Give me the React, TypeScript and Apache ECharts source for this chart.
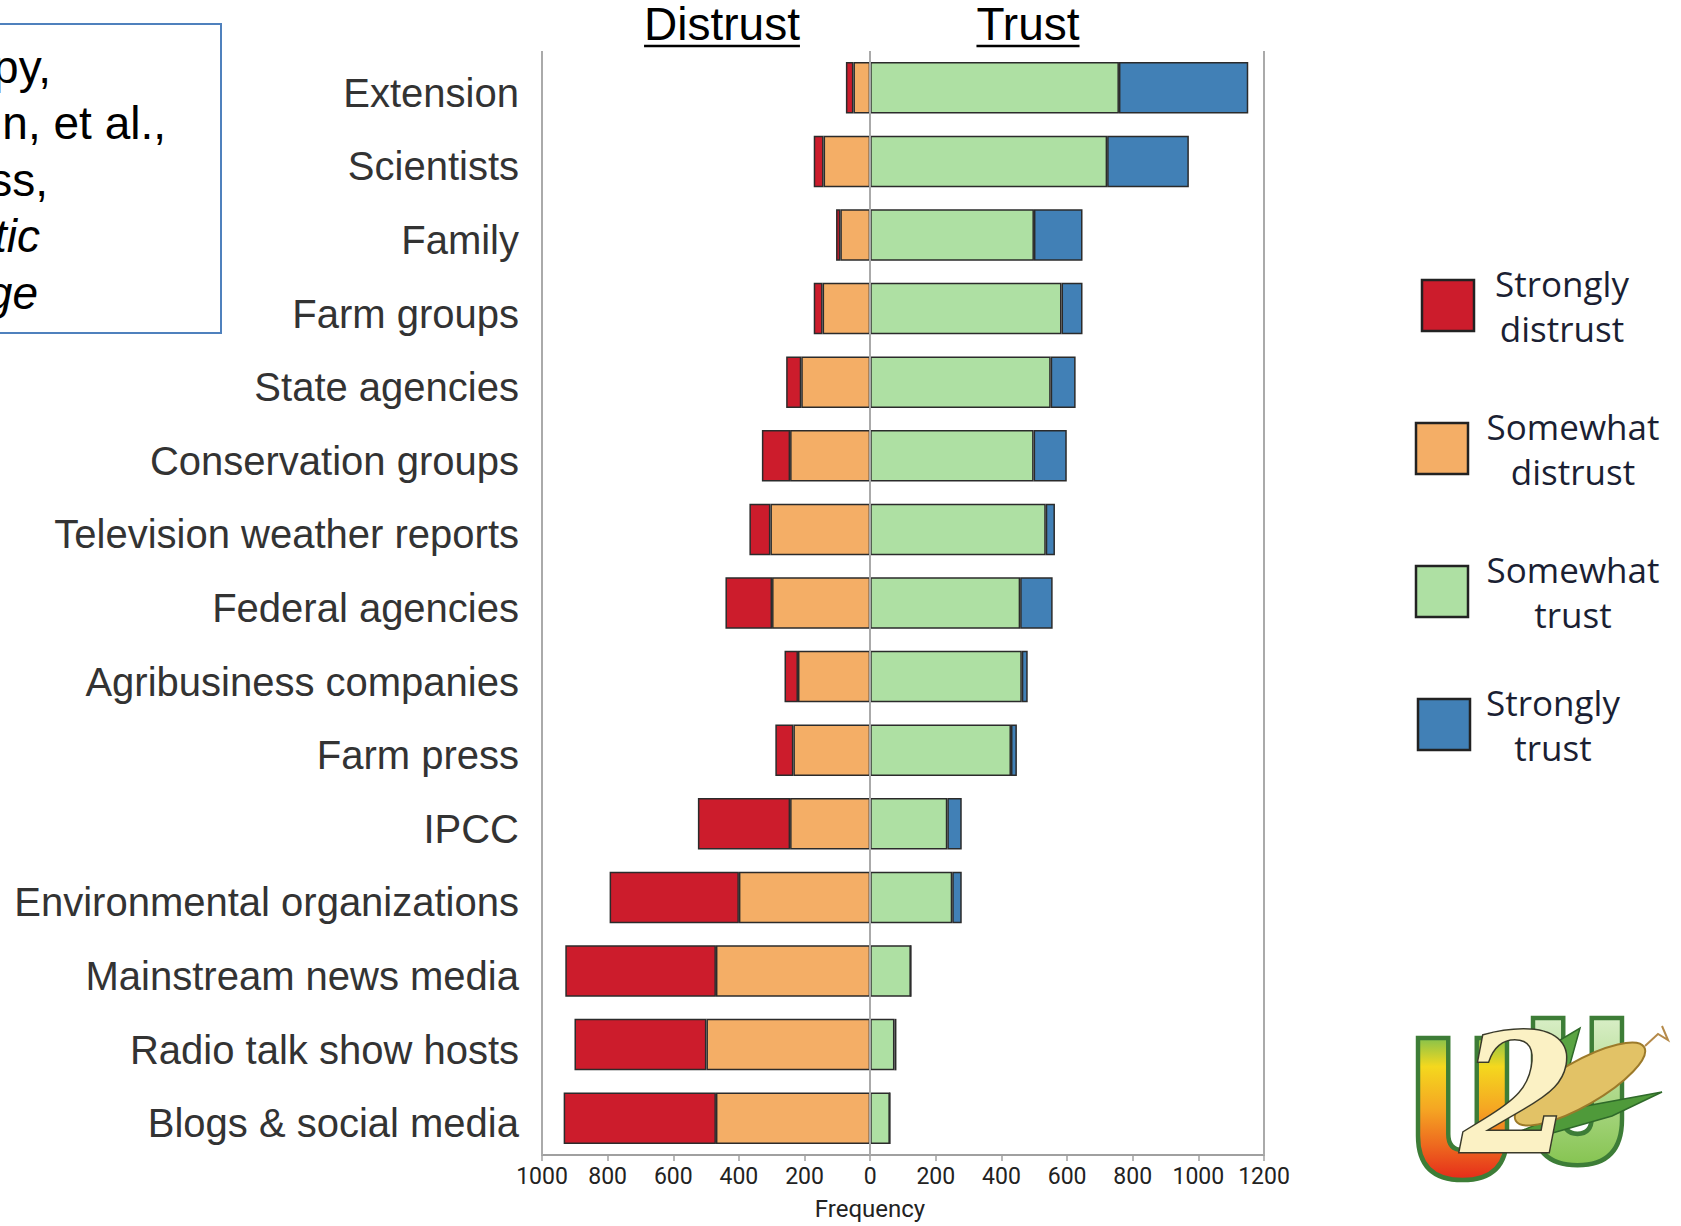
import React, { useEffect, useRef } from "react";
import * as echarts from "echarts";

const categories = [
  "Extension",
  "Scientists",
  "Family",
  "Farm groups",
  "State agencies",
  "Conservation groups",
  "Television weather reports",
  "Federal agencies",
  "Agribusiness companies",
  "Farm press",
  "IPCC",
  "Environmental organizations",
  "Mainstream news media",
  "Radio talk show hosts",
  "Blogs & social media",
];
const stronglyDistrust = [23, 30, 13, 27, 46, 86, 64, 142, 41, 55, 281, 394, 459, 402, 464];
const somewhatDistrust = [51, 142, 91, 145, 210, 244, 304, 299, 220, 234, 244, 400, 470, 499, 470];
const somewhatTrust = [758, 722, 499, 583, 550, 498, 535, 457, 462, 429, 235, 250, 124, 74, 60];
const stronglyTrust = [394, 249, 148, 64, 76, 101, 28, 99, 18, 18, 44, 29, 0, 6, 0];

const axisMin = -1000;
const axisMax = 1200;
const axisStep = 200;
const frameLines = [-1000, 0, 1200];

const seriesNames = ["Strongly distrust", "Somewhat distrust", "Somewhat trust", "Strongly trust"];
const legendLabels = ["Strongly\ndistrust", "Somewhat\ndistrust", "Somewhat\ntrust", "Strongly\ntrust"];
const citationLines = ["py,", "n, et al.,", "ss,", "tic", "ge"];
const titleLeft = "Distrust";
const titleRight = "Trust";
const axisName = "Frequency";

const RED = "#CC1C2C";
const ORANGE = "#F4AE66";
const GREEN = "#AEE0A3";
const BLUE = "#4180B6";
const COLORS = [RED, ORANGE, GREEN, BLUE];

const uPath =
  "M0 0 H34 V108 Q34 126 50 126 Q66 126 66 108 V0 H100 V110 Q100 160 50 160 Q0 160 0 110 Z";

function textWidth(txt: string, font: string) {
  const c = document.createElement("canvas").getContext("2d");
  if (!c) return txt.length * 20;
  c.font = font;
  return c.measureText(txt).width;
}

export default function App() {
  const ref = useRef<HTMLDivElement>(null);

  useEffect(() => {
    if (!ref.current) return;
    try {
      echarts.graphic.registerShape("uLetter", echarts.graphic.extendPath(uPath, {}) as any);
    } catch (e) {
      // already registered
    }
    const chart = echarts.init(ref.current, undefined, { renderer: "svg" });

    const titleFont = 46;
    const wL = textWidth(titleLeft, `${titleFont}px "Liberation Sans"`);
    const wR = textWidth(titleRight, `${titleFont}px "Liberation Sans"`);
    const cL = 722;
    const cR = 1028;

    const barStyle = (color: string) => ({
      color,
      borderColor: "#2b2b2b",
      borderWidth: 1.5,
    });

    const legendBoxes = [
      { x: 1422, y: 280 },
      { x: 1416, y: 423 },
      { x: 1416, y: 566 },
      { x: 1418, y: 699 },
    ];
    const legendTextX = [1562, 1573, 1573, 1553];

    const graphics: any[] = [];
    // citation box
    graphics.push({
      type: "rect",
      shape: { x: -10, y: 24, width: 231, height: 309 },
      style: { fill: "none", stroke: "#4F81BD", lineWidth: 2 },
    });
    const citeRight = [51, 166, 48, 40, 38];
    const citeBase = [90, 146, 203, 259, 316];
    citationLines.forEach((t, i) => {
      graphics.push({
        type: "text",
        x: citeRight[i],
        y: citeBase[i],
        style: {
          text: t,
          align: "right",
          verticalAlign: "bottom",
          fontSize: 46,
          fontFamily: '"Liberation Sans", Arial, sans-serif',
          fontStyle: i >= 3 ? "italic" : "normal",
          fill: "#000",
          lineHeight: 46,
        },
      });
    });
    // titles
    [[titleLeft, cL, wL], [titleRight, cR, wR]].forEach(([t, cx, w]: any) => {
      graphics.push({
        type: "text",
        x: cx,
        y: 23.5,
        style: {
          text: t,
          align: "center",
          verticalAlign: "middle",
          fontSize: titleFont,
          fontFamily: '"Liberation Sans", Arial, sans-serif',
          fill: "#000",
        },
      });
      graphics.push({
        type: "line",
        shape: { x1: cx - w / 2, y1: 46, x2: cx + w / 2, y2: 46 },
        style: { stroke: "#000", lineWidth: 2.5 },
      });
    });
    // axis name
    graphics.push({
      type: "text",
      x: 870,
      y: 1209,
      style: {
        text: axisName,
        align: "center",
        verticalAlign: "middle",
        fontSize: 24,
        fontFamily: "Roboto, sans-serif",
        fill: "#222",
      },
    });
    // legend
    seriesNames.forEach((n, i) => {
      const b = legendBoxes[i];
      graphics.push({
        type: "rect",
        shape: { x: b.x, y: b.y, width: 52, height: 51 },
        style: { fill: COLORS[i], stroke: "#222", lineWidth: 2.5 },
      });
      graphics.push({
        type: "text",
        x: legendTextX[i],
        y: b.y + 26,
        style: {
          text: legendLabels[i],
          align: "center",
          verticalAlign: "middle",
          fontSize: 35,
          lineHeight: 45,
          fontFamily: '"Open Sans", sans-serif',
          fill: "#1b1f33",
        },
      });
    });
    // logo
    graphics.push({
      type: "uLetter",
      x: 1418,
      y: 1038,
      scaleX: 0.89,
      scaleY: 0.8875,
      style: {
        fill: new echarts.graphic.LinearGradient(0, 0, 0, 1, [
          { offset: 0, color: "#86c24c" },
          { offset: 0.2, color: "#f4d81e" },
          { offset: 0.5, color: "#f5a623" },
          { offset: 0.75, color: "#ee6a1f" },
          { offset: 1, color: "#e52a1a" },
        ]),
        stroke: "#3d7d37",
        lineWidth: 5,
      },
    });
    graphics.push({
      type: "uLetter",
      x: 1533,
      y: 1018,
      scaleX: 0.89,
      scaleY: 0.92,
      style: {
        fill: new echarts.graphic.LinearGradient(0, 0, 0, 1, [
          { offset: 0, color: "#d8eec6" },
          { offset: 1, color: "#86c451" },
        ]),
        stroke: "#3d7d37",
        lineWidth: 5,
      },
    });
    graphics.push({
      type: "polygon",
      shape: {
        points: [
          [1500, 1140],
          [1575, 1108],
          [1662, 1092],
          [1612, 1116],
          [1535, 1138],
        ],
      },
      style: { fill: "#4f9a3a", stroke: "#2f6a2a", lineWidth: 1.5 },
    });
    graphics.push({
      type: "polygon",
      shape: {
        points: [
          [1545, 1082],
          [1560, 1040],
          [1580, 1028],
          [1570, 1064],
        ],
      },
      style: { fill: "#5aa443", stroke: "#2f6a2a", lineWidth: 1.5 },
    });
    graphics.push({
      type: "ellipse",
      x: 1580,
      y: 1084,
      rotation: 0.52,
      shape: { cx: 0, cy: 0, rx: 74, ry: 22 },
      style: { fill: "#e2c266", stroke: "#9c7a2a", lineWidth: 2 },
    });
    graphics.push({
      type: "polyline",
      shape: {
        points: [
          [1645, 1046],
          [1658, 1034],
          [1668, 1040],
          [1662, 1026],
        ],
      },
      style: { stroke: "#b58a4a", lineWidth: 2, fill: "none" },
    });
    graphics.push({
      type: "text",
      x: 1518,
      y: 1094,
      style: {
        text: "2",
        align: "center",
        verticalAlign: "middle",
        fontSize: 165,
        fontStyle: "italic",
        fontWeight: "bold",
        fontFamily: '"DejaVu Serif", serif',
        fill: "#fbf1c4",
        stroke: "#3a3a2a",
        lineWidth: 3,
      },
    });

    chart.setOption({
      animation: false,
      backgroundColor: "#fff",
      grid: { left: 542, right: 417, top: 51, bottom: 71, containLabel: false },
      xAxis: {
        type: "value",
        min: axisMin,
        max: axisMax,
        interval: axisStep,
        axisLine: { show: true, onZero: false, lineStyle: { color: "#a0a0a0", width: 2 } },
        axisTick: { show: true, length: 6, lineStyle: { color: "#a0a0a0", width: 1.5 } },
        splitLine: { show: false },
        axisLabel: {
          formatter: (v: number) => String(Math.abs(v)),
          fontFamily: "Roboto, sans-serif",
          fontSize: 23,
          color: "#222",
          margin: 10,
        },
      },
      yAxis: {
        type: "category",
        data: categories,
        inverse: true,
        axisLine: { show: false },
        axisTick: { show: false },
        axisLabel: {
          interval: 0,
          fontSize: 40,
          fontFamily: '"Liberation Sans", Arial, sans-serif',
          color: "#333333",
          margin: 23,
          verticalAlign: "top",
          lineHeight: 10,
        },
      },
      series: [
        {
          name: seriesNames[1],
          type: "bar",
          stack: "s",
          barCategoryGap: "30%",
          data: somewhatDistrust.map((v) => -v),
          itemStyle: barStyle(ORANGE),
        },
        {
          name: seriesNames[0],
          type: "bar",
          stack: "s",
          barCategoryGap: "30%",
          data: stronglyDistrust.map((v) => -v),
          itemStyle: barStyle(RED),
        },
        {
          name: seriesNames[2],
          type: "bar",
          stack: "s",
          barCategoryGap: "30%",
          data: somewhatTrust,
          itemStyle: barStyle(GREEN),
        },
        {
          name: seriesNames[3],
          type: "bar",
          stack: "s",
          barCategoryGap: "30%",
          data: stronglyTrust,
          itemStyle: barStyle(BLUE),
          markLine: {
            silent: true,
            symbol: ["none", "none"],
            label: { show: false },
            lineStyle: { color: "#aaaaaa", width: 2, type: "solid" },
            data: frameLines.map((v) => ({ xAxis: v })),
          },
        },
      ],
      graphic: graphics,
    });

    return () => chart.dispose();
  }, []);

  return (
    <div
      ref={ref}
      style={{ position: "absolute", left: 0, top: 0, width: 1681, height: 1226 }}
    />
  );
}
